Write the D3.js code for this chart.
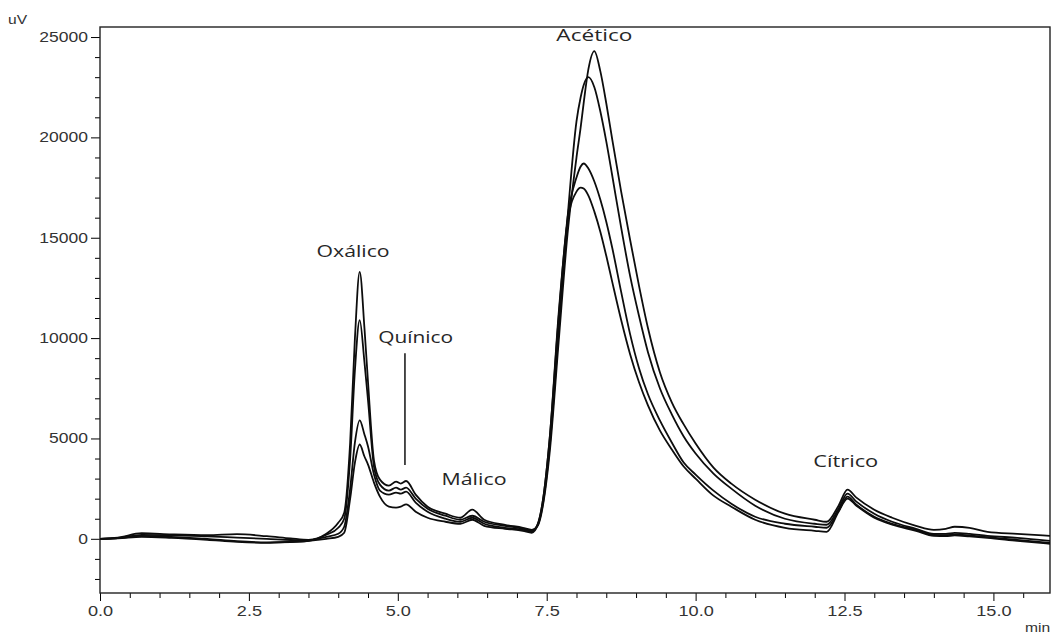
<!DOCTYPE html>
<html>
<head>
<meta charset="utf-8">
<script src="https://cdn.jsdelivr.net/npm/d3@7"></script>
<style>
  html, body { margin: 0; padding: 0; background: #fff; }
  svg { display: block; }
</style>
</head>
<body>
<svg id="chart" width="1053" height="634"></svg>
<script>
// ---- data (time in min, signal in uV) ----
const times = [0, 0.3, 0.7, 1.2, 1.8, 2.3, 2.8, 3.2, 3.5, 3.8, 4.0, 4.1, 4.2, 4.28, 4.36, 4.44, 4.5, 4.6, 4.7, 4.85, 4.97, 5.05, 5.14, 5.3, 5.5, 5.8, 6.05, 6.25, 6.45, 6.8, 7.1, 7.25, 7.35, 7.45, 7.55, 7.7, 7.85, 8.0, 8.07, 8.12, 8.2, 8.3, 8.4, 8.5, 8.6, 8.75, 8.9, 9.05, 9.2, 9.4, 9.6, 9.8, 10.0, 10.3, 10.6, 11.0, 11.5, 12.0, 12.2, 12.4, 12.55, 12.7, 13.0, 13.3, 13.7, 14.0, 14.2, 14.35, 14.6, 14.9, 15.4, 15.95];

const sample1 = [0, 60, 280, 220, 180, 230, 130, 20, -50, 250, 800, 1300, 4800, 10000, 13300, 10500, 7800, 3900, 2950, 2650, 2850, 2750, 2880, 2200, 1600, 1250, 1050, 1450, 950, 700, 550, 450, 650, 1900, 4300, 9800, 15200, 19000, 20500, 21700, 23400, 24300, 23300, 21700, 19900, 17300, 14900, 12600, 10500, 8300, 6800, 5700, 4750, 3550, 2750, 1950, 1250, 950, 850, 1650, 2450, 2050, 1450, 1050, 650, 450, 500, 600, 550, 350, 250, 150];

const sample2 = [0, 40, 200, 180, 120, 60, 0, -60, -80, 200, 550, 1000, 4000, 8400, 10900, 8800, 6900, 3600, 2700, 2400, 2550, 2450, 2550, 2000, 1500, 1150, 950, 1150, 850, 650, 500, 400, 700, 2000, 4600, 10300, 16000, 20800, 22000, 22600, 23000, 22500, 21300, 19800, 18100, 15500, 13100, 11100, 9300, 7500, 6200, 5100, 4250, 3250, 2500, 1650, 1000, 750, 700, 1500, 2250, 1850, 1250, 850, 500, 250, 250, 300, 250, 150, 50, -100];

const sample3 = [0, 30, 150, 100, 0, -120, -180, -160, -100, 100, 250, 600, 2500, 4800, 5900, 5200, 4600, 3200, 2400, 2200, 2300, 2250, 2350, 1800, 1350, 1000, 850, 1050, 750, 550, 450, 350, 750, 2200, 5000, 11000, 16000, 18000, 18550, 18700, 18450, 17800, 16900, 15800, 14500, 12300, 10200, 8500, 7200, 5900, 4800, 3800, 3200, 2400, 1750, 1100, 750, 600, 550, 1400, 2100, 1700, 1100, 750, 450, 200, 180, 220, 170, 80, -50, -200];

const sample4 = [0, 20, 100, 50, -50, -150, -200, -150, -100, 0, 100, 300, 2000, 3800, 4700, 4100, 3700, 2800, 2100, 1600, 1550, 1600, 1720, 1350, 1050, 850, 750, 950, 650, 500, 400, 300, 700, 2200, 5000, 11200, 15800, 17300, 17500, 17450, 17100, 16300, 15300, 14100, 12800, 10900, 9200, 7800, 6650, 5400, 4450, 3600, 3000, 2150, 1600, 950, 550, 400, 350, 1350, 2000, 1650, 1050, 700, 400, 150, 130, 170, 120, 50, -100, -250];

const series = [sample1, sample2, sample3, sample4];

const yMajorTicks = [0, 5000, 10000, 15000, 20000, 25000];
const xMajorTicks = [0, 2.5, 5.0, 7.5, 10.0, 12.5, 15.0];

// peak annotations: name, retention time (centre), signal at text baseline
const peakNames = ["Oxálico", "Quínico", "Málico", "Acético", "Cítrico"];
const peakTimes = [4.25, 5.30, 6.28, 8.30, 12.52];
const peakLabelY = [14040, 9750, 2690, 24780, 3580];
const peakLabelW = [73, 75, 65, 76, 65];
// Quínico marker line
const markerTime = 5.12;
const markerRange = [9250, 3680];

(function draw() {
  const svg = d3.select("#chart");
  const mL = 100, mR = 1050, mT = 27, mB = 593;

  const x = d3.scaleLinear().domain([0, 15.95]).range([mL, mR]);
  const y = d3.scaleLinear().domain([-2700, 25500]).range([mB, mT]);

  const axisColor = "#000";
  const textColor = "#333";
  const tickFont = "'Liberation Sans', Arial, sans-serif";
  const stretch = 1.25;

  function stretchText(sel, factor) {
    sel.each(function() {
      const w = this.getComputedTextLength();
      if (w > 0) {
        d3.select(this).attr("textLength", w * factor).attr("lengthAdjust", "spacingAndGlyphs");
      }
    });
  }

  // minor ticks
  const yMinor = d3.range(-2000, 25001, 1000).filter(v => v % 5000 !== 0);
  const xMinor = d3.range(0.5, 15.95, 0.5).filter(v => Math.abs(v / 2.5 - Math.round(v / 2.5)) > 1e-6);

  const gyMinor = svg.append("g").attr("transform", `translate(${mL},0)`)
    .call(d3.axisLeft(y).tickValues(yMinor).tickSize(5).tickFormat(""));
  gyMinor.select(".domain").remove();
  gyMinor.selectAll("line").attr("stroke", axisColor);

  const gxMinor = svg.append("g").attr("transform", `translate(0,${mB})`)
    .call(d3.axisBottom(x).tickValues(xMinor).tickSize(5).tickFormat(""));
  gxMinor.select(".domain").remove();
  gxMinor.selectAll("line").attr("stroke", axisColor);

  // major axes
  const gy = svg.append("g").attr("transform", `translate(${mL},0)`)
    .call(d3.axisLeft(y).tickValues(yMajorTicks).tickSize(9).tickPadding(3).tickFormat(d3.format("d")));
  gy.select(".domain").remove();
  gy.selectAll("line").attr("stroke", axisColor);
  gy.selectAll("text").attr("font-family", tickFont).attr("font-size", 14).attr("fill", textColor);

  const gx = svg.append("g").attr("transform", `translate(0,${mB})`)
    .call(d3.axisBottom(x).tickValues(xMajorTicks).tickSize(8).tickPadding(5).tickFormat(d3.format(".1f")));
  gx.select(".domain").remove();
  gx.selectAll("line").attr("stroke", axisColor);
  gx.selectAll("text").attr("font-family", tickFont).attr("font-size", 14.5).attr("fill", textColor);

  // frame
  svg.append("rect")
    .attr("x", mL).attr("y", mT)
    .attr("width", mR - mL).attr("height", mB - mT)
    .attr("fill", "none").attr("stroke", "#222").attr("stroke-width", 1.4);

  // unit labels
  svg.append("text").attr("class", "unit").attr("x", 8).attr("y", 24)
    .attr("font-family", tickFont).attr("font-size", 13).attr("fill", textColor).text("uV");
  svg.append("text").attr("class", "unit").attr("x", 1025).attr("y", 632)
    .attr("font-family", tickFont).attr("font-size", 13).attr("fill", textColor).text("min");

  stretchText(gy.selectAll("text"), stretch);
  stretchText(gx.selectAll("text"), stretch);
  stretchText(svg.selectAll("text.unit"), 1.2);

  // chromatogram traces
  svg.append("clipPath").attr("id", "plotclip")
    .append("rect").attr("x", mL).attr("y", mT).attr("width", mR - mL).attr("height", mB - mT);

  const line = d3.line()
    .x((d, i) => x(times[i]))
    .y(d => y(d))
    .curve(d3.curveMonotoneX);

  svg.append("g").attr("clip-path", "url(#plotclip)")
    .selectAll("path").data(series).join("path")
    .attr("d", d => line(d))
    .attr("fill", "none")
    .attr("stroke", "#0d0d0d")
    .attr("stroke-width", 1.8)
    .attr("stroke-linejoin", "round");

  // peak labels
  const labelFont = "'Open Sans', 'Noto Sans', sans-serif";
  svg.append("g").selectAll("text").data(peakNames).join("text")
    .attr("x", (d, i) => x(peakTimes[i]))
    .attr("y", (d, i) => y(peakLabelY[i]))
    .attr("text-anchor", "middle")
    .attr("font-family", labelFont)
    .attr("font-size", 15.5)
    .attr("fill", "#262626")
    .attr("textLength", (d, i) => peakLabelW[i])
    .attr("lengthAdjust", "spacingAndGlyphs")
    .text(d => d);

  svg.append("line")
    .attr("x1", x(markerTime)).attr("x2", x(markerTime))
    .attr("y1", y(markerRange[0])).attr("y2", y(markerRange[1]))
    .attr("stroke", "#111").attr("stroke-width", 1.5);
})();
</script>
</body>
</html>
